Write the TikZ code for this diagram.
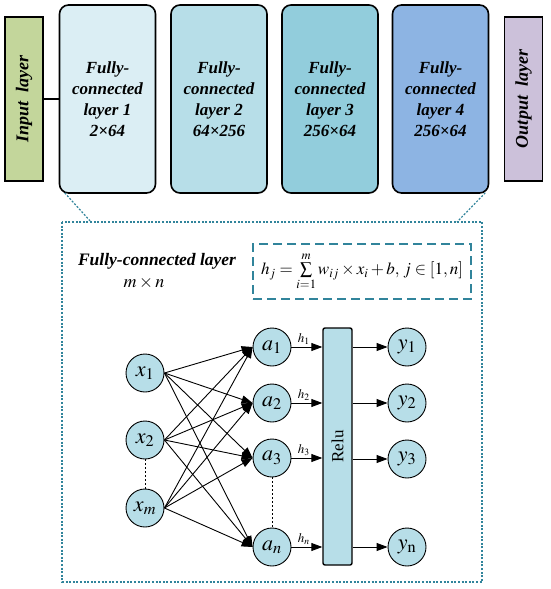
\documentclass[tikz,border=0pt]{standalone}
\usepackage{mathptmx}
\usepackage{fontspec}
\setmainfont{Liberation Serif}
\usetikzlibrary{arrows.meta,calc}
\definecolor{teal1}{HTML}{31849B}
\definecolor{inputg}{HTML}{C3D69B}
\definecolor{outputp}{HTML}{CCC1DA}
\definecolor{fcA}{HTML}{DBEEF4}
\definecolor{fcB}{HTML}{B7DEE8}
\definecolor{fcC}{HTML}{92CDDC}
\definecolor{fcD}{HTML}{8DB4E3}
\definecolor{neur}{HTML}{B7DEE8}
\tikzset{
  fcbox/.style={draw=black,line width=1.6pt,rounded corners=9pt,minimum width=96pt,minimum height=188pt,align=center,font=\fontsize{17}{21}\selectfont\bfseries\itshape},
  sidebox/.style={draw=black,line width=1.6pt,minimum width=164pt,minimum height=38pt,rotate=90,font=\fontsize{18}{18}\selectfont\bfseries\itshape},
  neuron/.style={circle,draw=black,line width=0.9pt,fill=neur,minimum size=38pt,inner sep=0pt,font=\fontsize{22}{22}\selectfont},
  arr/.style={-{Triangle[length=11pt,width=8pt]},line width=0.9pt},
  dotsline/.style={line width=0.8pt,dash pattern=on 2pt off 2pt},
  tealdot/.style={teal1,line width=1.2pt,dash pattern=on 2pt off 1.6pt},
}
\begin{document}
\begin{tikzpicture}[x=1pt,y=-1pt]
\useasboundingbox (0,0) rectangle (550,589);
% top row
\node[sidebox,fill=inputg] (in) at (24,99) {Input\ \ layer};
\node[fcbox,fill=fcA] (f1) at (107.5,99) {Fully-\\connected\\layer 1\\2×64};
\node[fcbox,fill=fcB] (f2) at (219,99) {Fully-\\connected\\layer 2\\64×256};
\node[fcbox,fill=fcC] (f3) at (330,99) {Fully-\\connected\\layer 3\\256×64};
\node[fcbox,fill=fcD] (f4) at (440.5,99) {Fully-\\connected\\layer 4\\256×64};
\node[sidebox,fill=outputp] (out) at (523.5,99) {Output\ \ layer};
\draw[line width=1.2pt] (in.south) -- (f1.west);
% detail box
\draw[tealdot] (62,222) rectangle (482,582);
\coordinate (t1) at (91,222);
\coordinate (t2) at (457,222);
\draw[tealdot] ($(f1.south west)+(6,-1)$) -- (t1);
\draw[tealdot] ($(f4.south east)+(-4,-1)$) -- (t2);
\node[font=\fontsize{17.5}{18}\selectfont\bfseries\itshape,inner sep=1pt] (title) at (157,261) {Fully-connected layer};
\node[font=\fontsize{18}{18}\selectfont,inner sep=1pt] (mn) at (144,283) {$m\times n$};
\node[draw=teal1,line width=1.2pt,dash pattern=on 9pt off 5pt,minimum width=218pt,minimum height=55pt,inner sep=0pt,font=\fontsize{17}{17}\selectfont] (fx) at (362,271.5) {$h_j=\sum\limits_{i=1}^{m} w_{ij}\times x_i+b,\, j\in\left[1,n\right]$};
% network
\node[neuron] (x1) at (145,373) {$x_1$};
\node[neuron] (x2) at (145,440) {$x_2$};
\node[neuron] (xm) at (145,508) {$x_m$};
\node[neuron] (a1) at (272,347) {$a_1$};
\node[neuron] (a2) at (272,403) {$a_2$};
\node[neuron] (a3) at (272,458) {$a_3$};
\node[neuron] (an) at (272,547) {$a_n$};
\node[draw=black,line width=1.4pt,fill=fcB,rounded corners=2pt,minimum width=29pt,minimum height=237pt,inner sep=0pt] (relu) at (337.5,446.5) {};
\node[rotate=90,font=\fontsize{17}{17}\selectfont] (relut) at (relu.center) {Relu};
\node[neuron] (y1) at (407,347) {$y_1$};
\node[neuron] (y2) at (407,403) {$y_2$};
\node[neuron] (y3) at (407,459) {$y_3$};
\node[neuron] (yn) at (407,547) {$y_{\mathrm{n}}$};
\draw[dotsline] (x2) -- (xm);
\draw[dotsline] (a3) -- (an);
\foreach \s in {x1,x2,xm}{
  \foreach \t in {a1,a2,a3,an}{
    \draw[arr] (\s.east) -- (\t.west);
  }
}
\foreach \t/\h in {a1/1,a2/2,a3/3,an/n}{
  \draw[arr] (\t.east) -- (\t.east -| relu.west) node[pos=0.4,above=-1pt,font=\fontsize{13}{13}\selectfont] {$h_{\h}$};
}
\foreach \t in {y1,y2,y3,yn}{
  \draw[arr] (\t.west -| relu.east) -- (\t.west);
}
\end{tikzpicture}
\end{document}
